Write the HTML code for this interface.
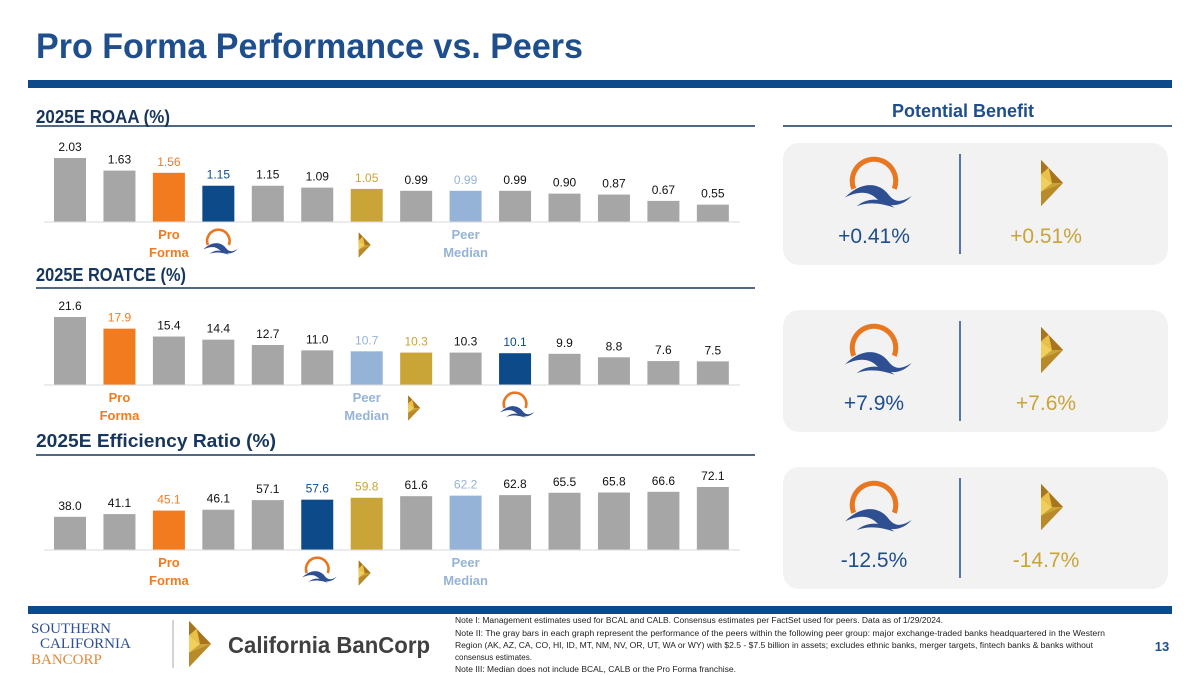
<!DOCTYPE html>
<html><head><meta charset="utf-8">
<style>
body{margin:0;width:1200px;height:675px;overflow:hidden;background:#fff;font-family:"Liberation Sans",sans-serif;}
svg{position:absolute;left:0;top:0}
</style></head>
<body>
<svg id="s" width="1200" height="675" viewBox="0 0 1200 675">
<defs>
<g id="bcal">
<path d="M-14,4 A15,15 0 1 1 14,4" fill="none" stroke="#e87722" stroke-width="3.5"/>
<path d="M-20,10 C-8,-2 4,0 10,8 C14,13 18,14 26,9 C18,18 8,16 2,11 C-4,5 -12,6 -20,10Z" fill="#2f4f93"/>
<path d="M-12,16 C-2,8 8,12 14,17 C8,15 -2,12 -12,16Z" fill="#2f4f93"/>
</g>
<g id="calb">
<polygon points="-10,-21 10,0 -10,21" fill="#c9a437"/>
<polygon points="-10,-21 10,0 -10,0" fill="#a8741e"/>
<polygon points="-10,-8 0,0 -10,8" fill="#f0cf5c"/>
<polygon points="-10,8 10,0 -10,21" fill="#b88a2a"/>
<polygon points="-10,-8 -3,-14 0,0" fill="#e8c04a"/>
</g>
</defs>
<text x="36" y="58" font-size="35" font-weight="bold" fill="#1f4e8c" textLength="547" lengthAdjust="spacingAndGlyphs">Pro Forma Performance vs. Peers</text>
<rect x="28" y="80" width="1144" height="8" fill="#0d4a8a"/>
<text x="36" y="123" font-size="18" font-weight="bold" fill="#17365d" textLength="134" lengthAdjust="spacingAndGlyphs">2025E ROAA (%)</text>
<line x1="36" y1="126" x2="755" y2="126" stroke="#17365d" stroke-width="1.5"/>
<text x="36" y="281" font-size="18" font-weight="bold" fill="#17365d" textLength="150" lengthAdjust="spacingAndGlyphs">2025E ROATCE (%)</text>
<line x1="36" y1="288" x2="755" y2="288" stroke="#17365d" stroke-width="1.5"/>
<text x="36" y="447" font-size="18" font-weight="bold" fill="#17365d" textLength="240" lengthAdjust="spacingAndGlyphs">2025E Efficiency Ratio (%)</text>
<line x1="36" y1="455" x2="755" y2="455" stroke="#17365d" stroke-width="1.5"/>
<text x="963" y="117" font-size="18" font-weight="bold" fill="#1f4e8c" text-anchor="middle">Potential Benefit</text>
<line x1="783" y1="126" x2="1172" y2="126" stroke="#17365d" stroke-width="1.5"/>
<g id="charts"></g>
<g id="panels"></g>
<rect x="28" y="606" width="1144" height="8" fill="#0d4a8a"/>
<g font-family="Liberation Serif,serif">
<text x="31" y="633" font-size="15" fill="#2f4f93">SOUTHERN</text>
<text x="40" y="648" font-size="15" fill="#2f4f93">CALIFORNIA</text>
<text x="31" y="664" font-size="15" fill="#e08a3c">BANCORP</text>
</g>
<line x1="173" y1="620" x2="173" y2="668" stroke="#aaa" stroke-width="1"/>
<use href="#calb" transform="translate(200,644) scale(1.1)"/>
<text x="228" y="653" font-size="23" font-weight="bold" fill="#404040" textLength="202" lengthAdjust="spacingAndGlyphs">California BanCorp</text>
<g font-size="8" fill="#222" lengthAdjust="spacingAndGlyphs">
<text x="455" y="623" textLength="488" lengthAdjust="spacingAndGlyphs">Note I: Management estimates used for BCAL and CALB. Consensus estimates per FactSet used for peers. Data as of 1/29/2024.</text>
<text x="455" y="636" textLength="650" lengthAdjust="spacingAndGlyphs">Note II: The gray bars in each graph represent the performance of the peers within the following peer group: major exchange-traded banks headquartered in the Western</text>
<text x="455" y="648" textLength="638" lengthAdjust="spacingAndGlyphs">Region (AK, AZ, CA, CO, HI, ID, MT, NM, NV, OR, UT, WA or WY) with $2.5 - $7.5 billion in assets; excludes ethnic banks, merger targets, fintech banks &amp; banks without</text>
<text x="455" y="660">consensus estimates.</text>
<text x="455" y="672" textLength="281" lengthAdjust="spacingAndGlyphs">Note III: Median does not include BCAL, CALB or the Pro Forma franchise.</text>
</g>
<text x="1162" y="651" font-size="13" font-weight="bold" fill="#1f4e8c" text-anchor="middle">13</text>
</svg>
<script>
const roaaValues=[2.03,1.63,1.56,1.15,1.15,1.09,1.05,0.99,0.99,0.99,0.90,0.87,0.67,0.55];
const roaaLabels=["2.03","1.63","1.56","1.15","1.15","1.09","1.05","0.99","0.99","0.99","0.90","0.87","0.67","0.55"];
const roaaKinds=["g","g","pf","bcal","g","g","calb","g","med","g","g","g","g","g"];
const roatceValues=[21.6,17.9,15.4,14.4,12.7,11.0,10.7,10.3,10.3,10.1,9.9,8.8,7.6,7.5];
const roatceLabels=["21.6","17.9","15.4","14.4","12.7","11.0","10.7","10.3","10.3","10.1","9.9","8.8","7.6","7.5"];
const roatceKinds=["g","pf","g","g","g","g","med","calb","g","bcal","g","g","g","g"];
const effValues=[38.0,41.1,45.1,46.1,57.1,57.6,59.8,61.6,62.2,62.8,65.5,65.8,66.6,72.1];
const effLabels=["38.0","41.1","45.1","46.1","57.1","57.6","59.8","61.6","62.2","62.8","65.5","65.8","66.6","72.1"];
const effKinds=["g","g","pf","g","g","bcal","calb","g","med","g","g","g","g","g"];
const benefitBcal=["+0.41%","+7.9%","-12.5%"];
const benefitCalb=["+0.51%","+7.6%","-14.7%"];

const NS="http://www.w3.org/2000/svg";
const fill={g:"#a6a6a6",pf:"#f27b20",bcal:"#0d4a8a",calb:"#c9a437",med:"#95b3d7"};
const tcol={g:"#111",pf:"#f27b20",bcal:"#0d4a8a",calb:"#c9a437",med:"#95b3d7"};
function mk(tag,attrs,parent){const e=document.createElementNS(NS,tag);for(const k in attrs)e.setAttribute(k,attrs[k]);parent.appendChild(e);return e;}
const root=document.getElementById('charts');
function chart(name,vals,labels,kinds,base,yTop,vTop,vMin){
  const g=mk('g',{},root);
  
  
  const xs=i=>70+i*49.45;
  const ys=v=>base-(v-vMin)/(vTop-vMin)*(base-yTop);
  vals.forEach((v,i)=>{
    const r=mk('rect',{x:xs(i)-16,y:ys(v),width:32,height:base-ys(v),fill:fill[kinds[i]]},g);
    
    
    const t=mk('text',{x:xs(i),y:ys(v)-7,'font-size':12,'text-anchor':'middle',fill:tcol[kinds[i]]},g);
    t.textContent=labels[i];
    
    
    const k=kinds[i];
    if(k==='pf'||k==='med'){
      const a=k==='pf'?['Pro','Forma']:['Peer','Median'];
      a.forEach((w,j)=>{const c=mk('text',{x:xs(i),y:base+17+j*18,'font-size':13,'font-weight':'bold','text-anchor':'middle',fill:tcol[k]},g);c.textContent=w;
      
      });
    } else if(k==='bcal'){
      const u=mk('use',{href:'#bcal',transform:'translate('+xs(i)+','+(base+20)+') scale(0.75)'},g);
      
      
    } else if(k==='calb'){
      const u=mk('use',{href:'#calb',transform:'translate('+(xs(i)-2)+','+(base+23)+') scale(0.6)'},g);
      
      
    }
  });
  mk('line',{x1:44,y1:base,x2:740,y2:base,stroke:'#d9d9d9','stroke-width':1},g);
}
chart('roaa',roaaValues,roaaLabels,roaaKinds,222,158,2.03,0);
chart('roatce',roatceValues,roatceLabels,roatceKinds,385,317,21.6,0);
chart('efficiency',effValues,effLabels,effKinds,550,487,72.1,0);

const pr=document.getElementById('panels');
[143,310,467].forEach((y,i)=>{
  const g=mk('g',{},pr);
  
  
  mk('rect',{x:783,y:y,width:385,height:122,rx:16,fill:'#f2f2f2'},g);
  mk('line',{x1:960,y1:y+11,x2:960,y2:y+111,stroke:'#1f4e8c','stroke-width':1.5},g);
  mk('use',{href:'#bcal',transform:'translate(874,'+(y+40)+') scale(1.45)'},g);
  mk('use',{href:'#calb',transform:'translate(1052,'+(y+40)+') scale(1.1)'},g);
  const a=mk('text',{x:874,y:y+100,'font-size':21,'text-anchor':'middle',fill:'#1f4e8c'},g);a.textContent=benefitBcal[i];
  
  
  const b=mk('text',{x:1046,y:y+100,'font-size':21,'text-anchor':'middle',fill:'#c9a437'},g);b.textContent=benefitCalb[i];
  
  
});
</script>
</body></html>
